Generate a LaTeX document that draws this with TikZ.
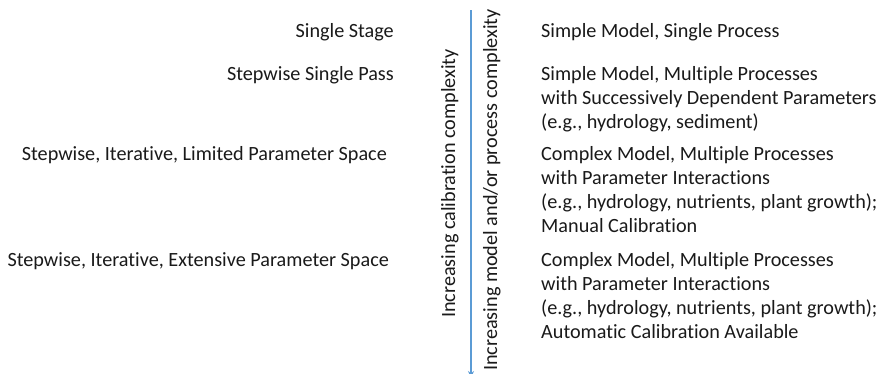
\documentclass[tikz,border=0pt]{standalone}
\usepackage{fontspec}
\setmainfont{Carlito}[Ligatures={NoCommon}]
\usetikzlibrary{arrows.meta}
\definecolor{axisblue}{HTML}{5B9BD5}
\definecolor{txt}{HTML}{1A1A1A}
\begin{document}
\begin{tikzpicture}[x=1pt,y=-1pt,
  lbl/.style={inner sep=0pt, font=\fontsize{20.2}{24}\selectfont, text=txt},
  leftlbl/.style={lbl, anchor=base east},
  rightlbl/.style={lbl, anchor=base west},
  vlbl/.style={lbl, rotate=90, anchor=base}]
\useasboundingbox[fill=white] (0,0) rectangle (881,373);
% axis line
\coordinate (top) at (471,10);
\coordinate (bot) at (471,378);
\draw[axisblue, line width=2pt, -{Stealth[length=7pt,width=6pt]}] (top) -- (bot);
% rotated labels
\node[vlbl] (calib) at (455,183.5) {Increasing calibration complexity};
\node[vlbl] (model) at (497,190) {Increasing model and/or process complexity};
% left labels
\node[leftlbl] (l1) at (394,37) {Single Stage};
\node[leftlbl] (l2) at (394,80) {Stepwise Single Pass};
\node[leftlbl] (l3) at (387,160) {Stepwise, Iterative, Limited Parameter Space};
\node[leftlbl] (l4) at (389,266) {Stepwise, Iterative, Extensive Parameter Space};
% right labels
\node[rightlbl] (r1a) at (541,37) {Simple Model, Single Process};
\node[rightlbl] (r2a) at (541,80) {Simple Model, Multiple Processes};
\node[rightlbl] (r2b) at (541,104) {with Successively Dependent Parameters};
\node[rightlbl] (r2c) at (541,128) {(e.g., hydrology, sediment)};
\node[rightlbl] (r3a) at (541,160) {Complex Model, Multiple Processes};
\node[rightlbl] (r3b) at (541,184) {with Parameter Interactions};
\node[rightlbl] (r3c) at (541,208) {(e.g., hydrology, nutrients, plant growth);};
\node[rightlbl] (r3d) at (541,232) {Manual Calibration};
\node[rightlbl] (r4a) at (541,266) {Complex Model, Multiple Processes};
\node[rightlbl] (r4b) at (541,290) {with Parameter Interactions};
\node[rightlbl] (r4c) at (541,314) {(e.g., hydrology, nutrients, plant growth);};
\node[rightlbl] (r4d) at (541,338) {Automatic Calibration Available};
\end{tikzpicture}
\end{document}
